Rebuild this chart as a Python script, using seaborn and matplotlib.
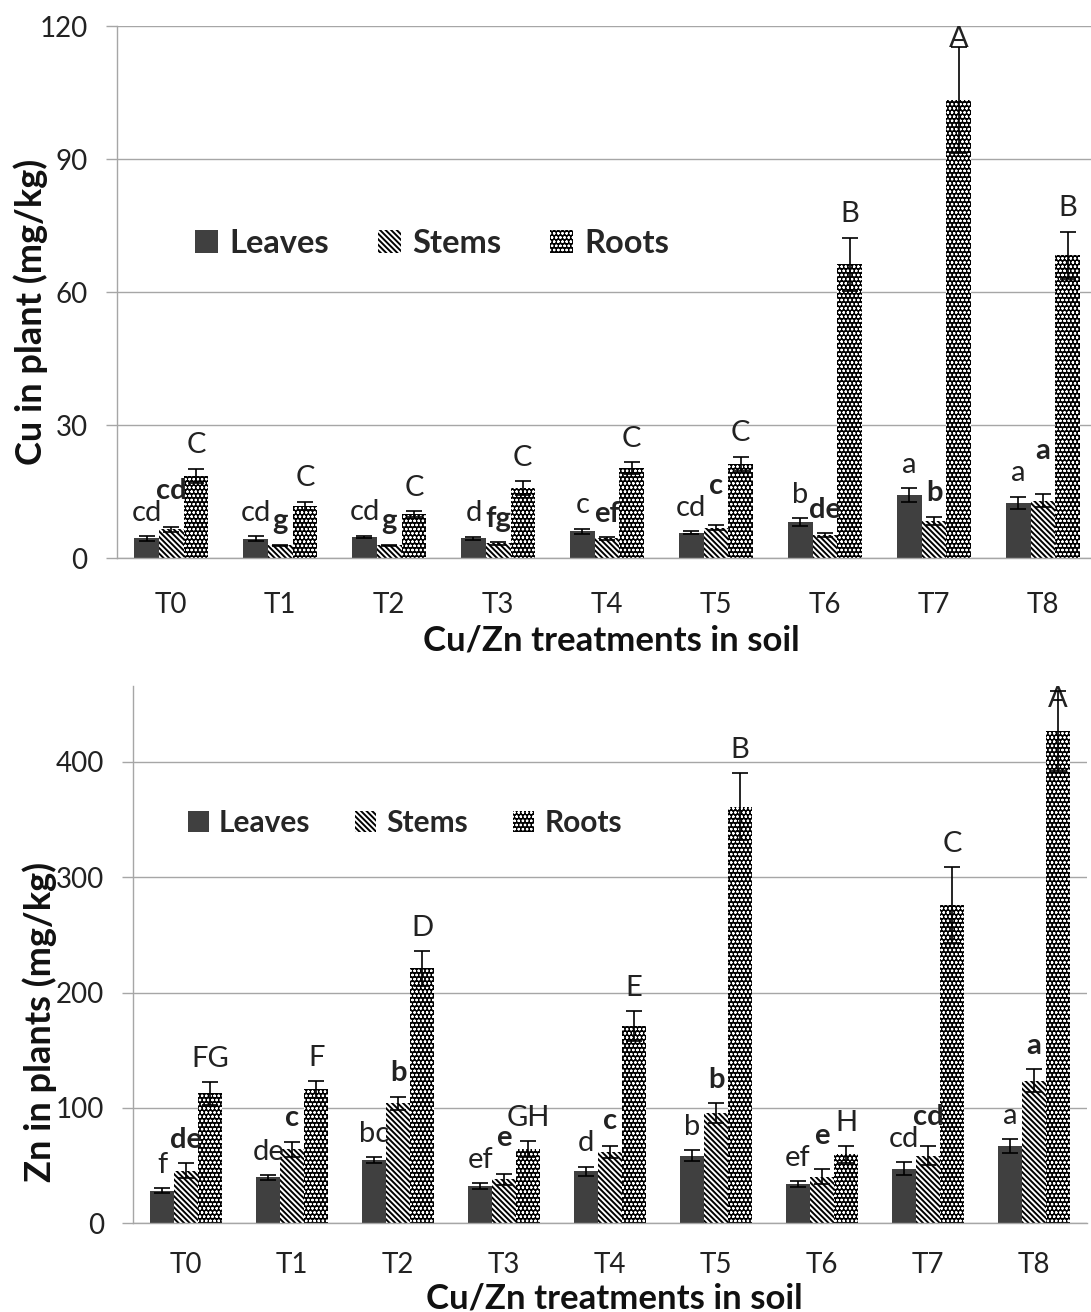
import numpy as np
import pandas as pd
import matplotlib
matplotlib.use('Agg')
import matplotlib.pyplot as plt
import seaborn as sns

treatments = ['T0', 'T1', 'T2', 'T3', 'T4', 'T5', 'T6', 'T7', 'T8']
tissues = ['Leaves', 'Stems', 'Roots']

# Cu (mg/kg)
cu_leaves = [4.5, 4.4, 4.8, 4.5, 6.1, 5.8, 8.1, 14.3, 12.5]
cu_stems = [6.5, 2.9, 2.9, 3.4, 4.5, 6.9, 5.2, 8.5, 13.0]
cu_roots = [18.6, 11.8, 9.9, 15.8, 20.3, 21.3, 66.3, 103.3, 68.4]
cu_leaves_err = [0.5, 0.6, 0.3, 0.4, 0.6, 0.3, 0.9, 1.5, 1.4]
cu_stems_err = [0.6, 0.2, 0.2, 0.3, 0.3, 0.6, 0.5, 0.9, 1.5]
cu_roots_err = [1.6, 1.0, 0.7, 1.6, 1.3, 1.6, 6.0, 12.0, 5.3]
cu_leaves_lab = ['cd', 'cd', 'cd', 'd', 'c', 'cd', 'b', 'a', 'a']
cu_stems_lab = ['cd', 'g', 'g', 'fg', 'ef', 'c', 'de', 'b', 'a']
cu_roots_lab = ['C', 'C', 'C', 'C', 'C', 'C', 'B', 'A', 'B']

# Zn (mg/kg)
zn_leaves = [28.2, 39.9, 54.9, 32.3, 45.0, 58.6, 33.8, 47.3, 67.2]
zn_stems = [45.6, 64.1, 104.0, 38.1, 62.0, 95.3, 40.4, 58.6, 123.6]
zn_roots = [112.7, 116.1, 221.0, 64.3, 171.0, 361.0, 59.8, 276.0, 427.0]
zn_leaves_err = [2.0, 2.0, 2.3, 2.5, 4.0, 4.9, 2.6, 5.8, 6.0]
zn_stems_err = [6.4, 6.6, 5.7, 5.0, 5.0, 8.6, 6.6, 8.3, 10.0]
zn_roots_err = [9.8, 7.4, 15.0, 7.0, 13.0, 29.0, 7.2, 33.0, 34.6]
zn_leaves_lab = ['f', 'de', 'bc', 'ef', 'd', 'b', 'ef', 'cd', 'a']
zn_stems_lab = ['de', 'c', 'b', 'e', 'c', 'b', 'e', 'cd', 'a']
zn_roots_lab = ['FG', 'F', 'D', 'GH', 'E', 'B', 'H', 'C', 'A']

GRAY = '#a6a6a6'
LABEL_PAD = 11      # points between error cap and letter baseline
LABEL_STEP = 16     # min vertical gap (points) between leaves and stems letters

sns.set_style('white')
plt.rcParams['font.family'] = ['Lato', 'DejaVu Sans']
plt.rcParams['hatch.linewidth'] = 1.4

STYLES = [dict(facecolor='#404040', edgecolor='none', hatch=None, hlw=1.4),
          dict(facecolor='white', edgecolor='black', hatch='\\' * 6, hlw=1.4),
          dict(facecolor='black', edgecolor='white', hatch='o' * 4, hlw=0.6)]


def style_patch(p, st):
    p.set_facecolor(st['facecolor'])
    p.set_edgecolor(st['edgecolor'])
    p.set_hatch(st['hatch'])
    p.set_linewidth(0)
    if hasattr(p, 'set_hatch_linewidth'):
        p.set_hatch_linewidth(st['hlw'])


def long_df(leaves, stems, roots):
    rows = []
    for name, vals in zip(tissues, [leaves, stems, roots]):
        for t, v in zip(treatments, vals):
            rows.append({'treatment': t, 'tissue': name, 'value': v})
    return pd.DataFrame(rows)


def panel(ax, values, errs, labels, ylim, yticks, ylabel, ylabel_xy, xlabel_xy,
          legend_xy, legend_size, xpad):
    df = long_df(*values)
    sns.barplot(data=df, x='treatment', y='value', hue='tissue', order=treatments,
                hue_order=tissues, width=0.68, errorbar=None, ax=ax, legend=False)
    bars = list(ax.containers[:3])

    for cont, st in zip(bars, STYLES):
        for p in cont.patches:
            style_patch(p, st)

    # points per data unit, to keep stems letters clear of leaves letters
    ax_h_in = ax.get_position().height * ax.figure.get_figheight()
    pts_per_unit = ax_h_in * 72 / (ylim[1] - ylim[0])

    top_lim = ylim[1]
    leaf_caps = [v + e for v, e in zip(values[0], errs[0])]
    for k, cont in enumerate(bars):
        xs = [p.get_x() + p.get_width() / 2 for p in cont.patches]
        ys = [p.get_height() for p in cont.patches]
        ax.errorbar(xs, ys, yerr=errs[k], fmt='none', ecolor='black',
                    elinewidth=1.2, capsize=5.5, capthick=1.2, zorder=5)
        for i, (x, y, e, lab) in enumerate(zip(xs, ys, errs[k], labels[k])):
            weight = 'bold' if k == 1 else 'normal'
            cap = y + e
            if cap > 0.9 * top_lim:
                ax.annotate(lab, xy=(x, top_lim), xytext=(0, 0), textcoords='offset points',
                            ha='center', va='top', fontsize=21, fontweight=weight,
                            color='#222222', annotation_clip=False)
                continue
            off = LABEL_PAD
            if k == 1:
                diff = (cap - leaf_caps[i]) * pts_per_unit
                if 0 <= diff < LABEL_STEP:
                    off = LABEL_PAD + LABEL_STEP - diff
            ax.annotate(lab, xy=(x, cap), xytext=(0, off), textcoords='offset points',
                        ha='center', va='baseline', fontsize=21, fontweight=weight,
                        color='#222222', annotation_clip=False)

    ax.set_ylim(*ylim)
    ax.set_xlim(-0.5, len(treatments) - 0.5)
    ax.set_yticks(yticks)
    ax.set_xticks(range(len(treatments)))
    ax.set_xticklabels(treatments)
    ax.set_xticks(np.arange(-0.5, len(treatments), 1), minor=True)
    ax.tick_params(axis='x', which='major', length=0, pad=xpad, labelsize=20,
                   labelcolor='#222222')
    ax.tick_params(axis='x', which='minor', length=8, width=1, color=GRAY, direction='out')
    ax.tick_params(axis='y', length=8, width=1, color=GRAY, pad=13, labelsize=20,
                   labelcolor='#222222', left=True)
    ax.yaxis.grid(True, color=GRAY, linewidth=1)
    ax.set_axisbelow(True)
    for s in ['top', 'right']:
        ax.spines[s].set_visible(False)
    for s in ['left', 'bottom']:
        ax.spines[s].set_color(GRAY)
        ax.spines[s].set_linewidth(1)

    ax.set_ylabel(ylabel, fontsize=26, fontweight='bold', color='#111111', va='center')
    ax.yaxis.set_label_coords(*ylabel_xy)
    ax.set_xlabel('Cu/Zn treatments in soil', fontsize=25, fontweight='bold',
                  color='#111111', va='center')
    ax.xaxis.set_label_coords(*xlabel_xy)

    leg = ax.legend(handles=bars, labels=tissues, loc='center left',
                    bbox_to_anchor=legend_xy, ncol=3, frameon=False, borderpad=0,
                    borderaxespad=0, handlelength=0.7, handleheight=0.7, handletextpad=0.35,
                    columnspacing=1.5, prop={'family': ['Lato', 'DejaVu Sans'],
                                             'weight': 'bold', 'size': legend_size})
    for h, st in zip(leg.legend_handles, STYLES):
        style_patch(h, st)


fig = plt.figure(figsize=(10.91, 13.12), dpi=100)
ax1 = fig.add_axes([0.107, 0.5745, 0.899, 0.4055])
ax2 = fig.add_axes([0.1222, 0.0676, 0.8741, 0.4098])

panel(ax1, [cu_leaves, cu_stems, cu_roots],
      [cu_leaves_err, cu_stems_err, cu_roots_err],
      [cu_leaves_lab, cu_stems_lab, cu_roots_lab],
      (0, 120), [0, 30, 60, 90, 120], 'Cu in plant (mg/kg)',
      (-0.088, 0.463), (0.504, -0.155), (0.08, 0.592), 23.5, 24)

panel(ax2, [zn_leaves, zn_stems, zn_roots],
      [zn_leaves_err, zn_stems_err, zn_roots_err],
      [zn_leaves_lab, zn_stems_lab, zn_roots_lab],
      (0, 466), [0, 100, 200, 300, 400], 'Zn in plants (mg/kg)',
      (-0.098, 0.374), (0.504, -0.139), (0.057, 0.745), 21.5, 21)

fig.savefig('out.png', dpi=100)
